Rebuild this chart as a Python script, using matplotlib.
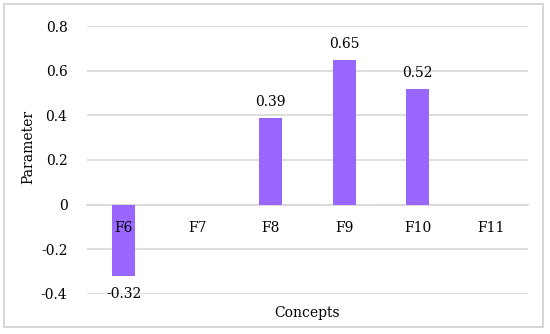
import matplotlib.pyplot as plt
from matplotlib.patches import Rectangle

# --------------------------------------

concepts = ["F6", "F7", "F8", "F9", "F10", "F11"]
values = [-0.32, 0.0, 0.39, 0.65, 0.52, 0.0]
labels = ["-0.32", "", "0.39", "0.65", "0.52", ""]
y_ticks = [-0.4, -0.2, 0, 0.2, 0.4, 0.6, 0.8]
y_tick_labels = ["-0.4", "-0.2", "0", "0.2", "0.4", "0.6", "0.8"]

# --------------------------------------

plt.rcParams["font.family"] = ["DejaVu Serif"]
plt.rcParams["font.size"] = 10

fig = plt.figure(figsize=(5.5, 3.34), dpi=100)
ax = fig.add_axes([0.158, 0.12, 0.802, 0.802])

grid_color = "#d9d9d9"
bar_color = "#9966ff"

x = list(range(len(concepts)))
bars = ax.bar(x, values, width=0.31, color=bar_color, zorder=3)

for rect, value, text in zip(bars, values, labels):
    if not text:
        continue
    if value >= 0:
        ax.annotate(text, (rect.get_x() + rect.get_width() / 2, value),
                    xytext=(0, 6), textcoords="offset points",
                    ha="center", va="bottom")
    else:
        ax.annotate(text, (rect.get_x() + rect.get_width() / 2, value),
                    xytext=(0, -8), textcoords="offset points",
                    ha="center", va="top")

ax.set_xlim(-0.5, len(concepts) - 0.5)
ax.set_ylim(-0.4, 0.8)
ax.set_yticks(y_ticks)
ax.set_yticklabels(y_tick_labels)
ax.set_xticks(x)
ax.set_xticklabels(concepts)

ax.yaxis.grid(True, color=grid_color, linewidth=1.2, zorder=0)
ax.tick_params(axis="both", length=0)
ax.tick_params(axis="y", pad=14)
ax.tick_params(axis="x", pad=12)
# category names sit on top of the bars
ax.xaxis.set_zorder(4)

for side in ["top", "right", "left"]:
    ax.spines[side].set_visible(False)
ax.spines["bottom"].set_position(("data", 0))
ax.spines["bottom"].set_color(grid_color)
ax.spines["bottom"].set_linewidth(1.2)

fig.text(0.558, 0.063, "Concepts", ha="center", va="center")
fig.text(0.051, 0.56, "Parameter", ha="center", va="center", rotation=90)

fig.patches.append(Rectangle((0.007, 0.021), 0.98, 0.967, transform=fig.transFigure,
                             fill=False, edgecolor="#d0d0d0", linewidth=1.2))

fig.savefig("out.png", dpi=100)
